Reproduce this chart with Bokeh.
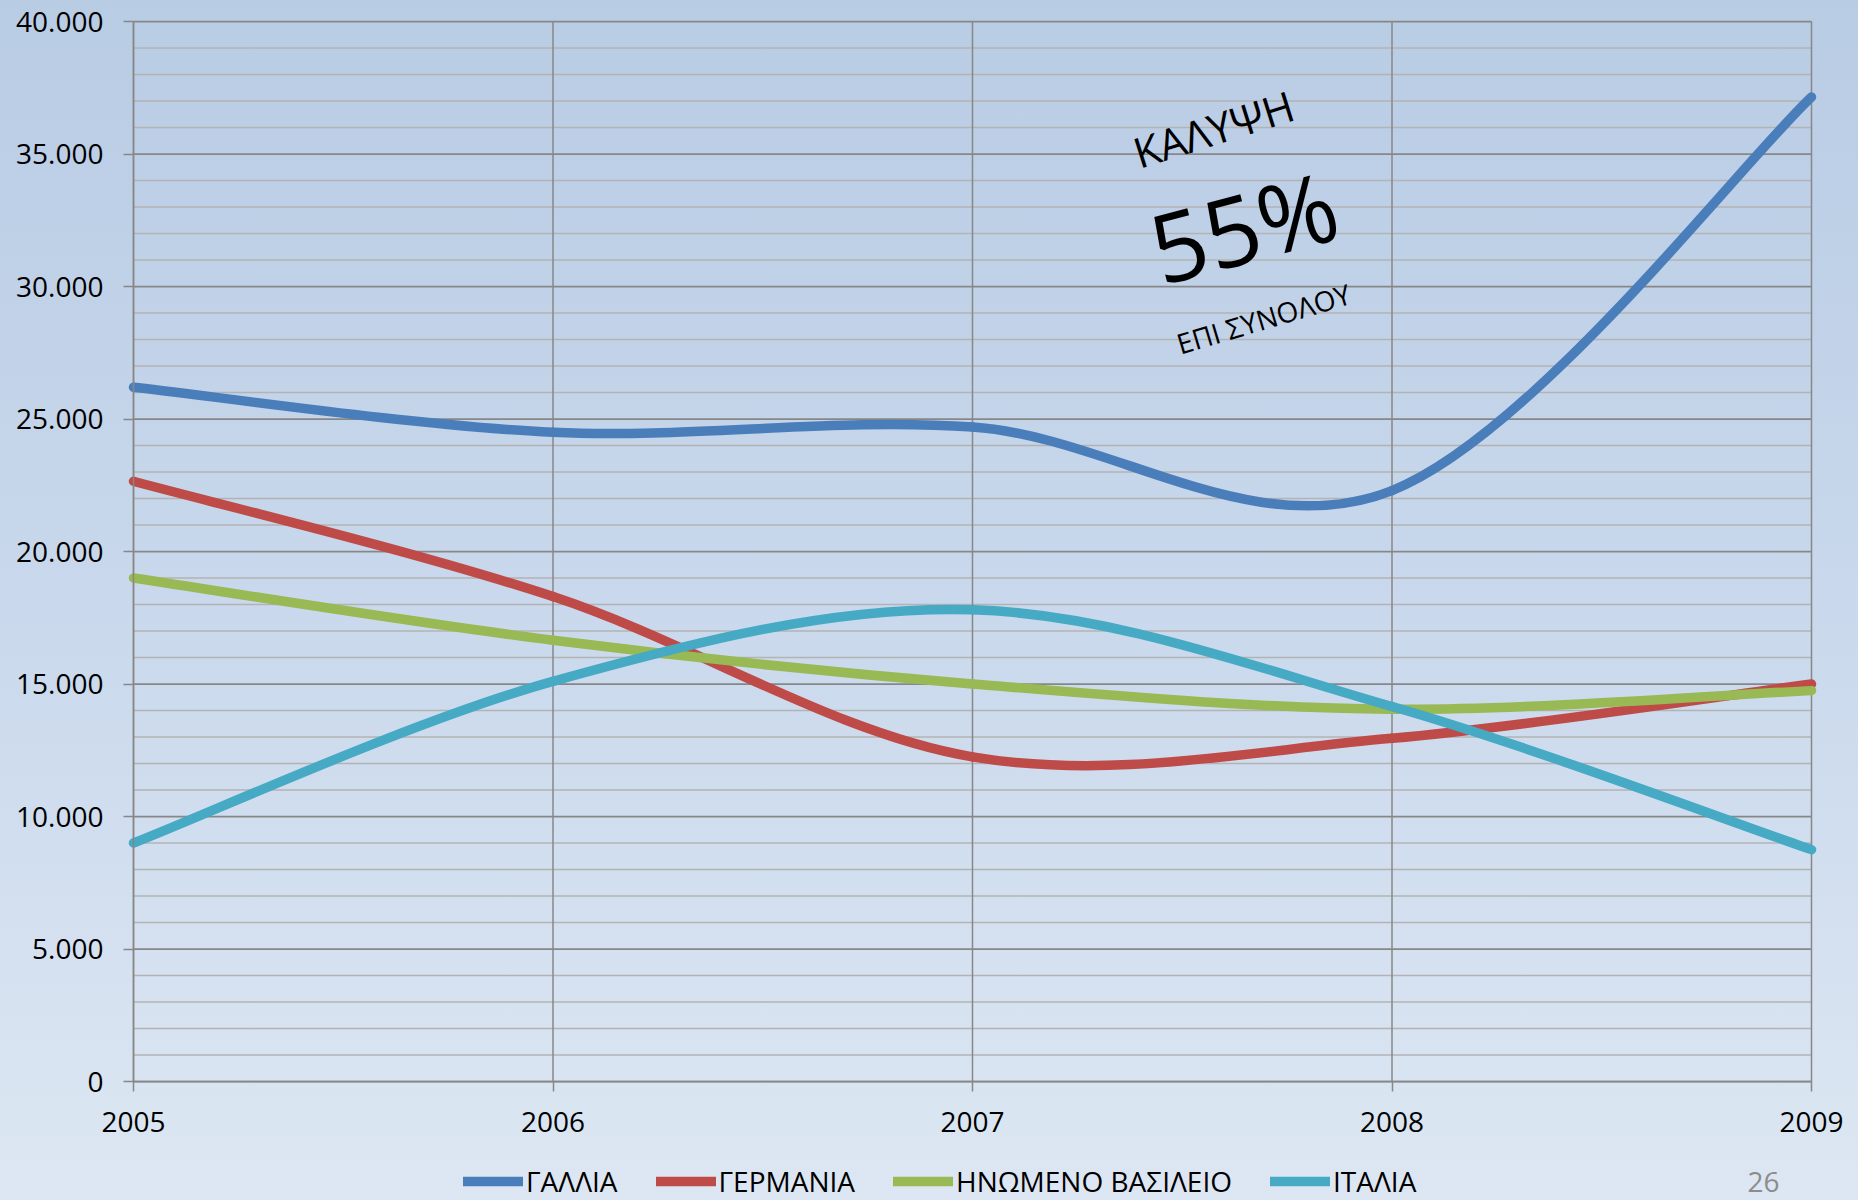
import numpy as np
from bokeh.plotting import figure
from bokeh.models import (FixedTicker, Legend, LegendItem, Label, Range1d,
                          ColumnDataSource, GlobalInlineStyleSheet)
from bokeh.embed import file_html
from bokeh.resources import INLINE

# ---------------- data ----------------
years = [2005, 2006, 2007, 2008, 2009]
gallia = [26200, 24500, 24700, 22300, 37150]
germania = [22650, 18300, 12250, 12950, 15000]
hnomeno_vasileio = [19000, 16650, 15000, 14050, 14750]
italia = [9000, 15100, 17800, 14150, 8750]

series_names = ["ΓΑΛΛΙΑ", "ΓΕΡΜΑΝΙΑ", "ΗΝΩΜΕΝΟ ΒΑΣΙΛΕΙΟ", "ΙΤΑΛΙΑ"]
series_values = [gallia, germania, hnomeno_vasileio, italia]
series_colors = ["#4a7ebb", "#be4b48", "#98b954", "#46aac5"]

y_ticks = [0, 5000, 10000, 15000, 20000, 25000, 30000, 35000, 40000]
y_tick_labels = ["0", "5.000", "10.000", "15.000", "20.000", "25.000",
                 "30.000", "35.000", "40.000"]
y_minor_ticks = list(range(0, 40001, 1000))
x_ticks = years
x_tick_labels = ["2005", "2006", "2007", "2008", "2009"]

FONT = "Open Sans"
GRID = "#878787"
MINOR = "#b3b3b3"

# ---------------- layout (plot area inside a full-canvas frame) ----------------
W, H = 1858, 1200
AREA_LEFT, AREA_RIGHT, AREA_TOP, AREA_BOTTOM = 133, 1811, 21, 1081
x_min, x_max = years[0], years[-1]
y_min, y_max = y_ticks[0], y_ticks[-1]
ppx = (AREA_RIGHT - AREA_LEFT) / (x_max - x_min)
ppy = (AREA_BOTTOM - AREA_TOP) / (y_max - y_min)
x_range = Range1d(x_min - AREA_LEFT / ppx, x_max + (W - AREA_RIGHT) / ppx)
y_range = Range1d(y_min - (H - AREA_BOTTOM) / ppy, y_max + AREA_TOP / ppy)

p = figure(width=W, height=H, output_backend="svg", toolbar_location=None,
           x_range=x_range, y_range=y_range,
           min_border_left=0, min_border_right=0, min_border_top=0,
           min_border_bottom=0)
p.background_fill_alpha = 0
p.border_fill_alpha = 0
p.outline_line_color = None
p.stylesheets.append(GlobalInlineStyleSheet(css="""
html { min-height: 100%; background: linear-gradient(to bottom, #b8cce4 0%, #c9d8ec 50%, #dde7f3 100%) fixed; }
body { background: transparent; margin: 0; overflow: hidden; }
"""))
p.xgrid.visible = False
p.ygrid.visible = False

# ---------------- grid lines (from the tick arrays) ----------------
minor_only = [t for t in y_minor_ticks if t not in y_ticks]
p.segment(x0=[x_min] * len(minor_only), y0=minor_only,
          x1=[x_max] * len(minor_only), y1=minor_only,
          line_color=MINOR, line_width=1.5)
p.segment(x0=[x_min] * len(y_ticks), y0=y_ticks,
          x1=[x_max] * len(y_ticks), y1=y_ticks,
          line_color=GRID, line_width=1.75)
p.segment(x0=x_ticks, y0=[y_min] * len(x_ticks), x1=x_ticks,
          y1=[y_max] * len(x_ticks), line_color=GRID, line_width=1.5)

# ---------------- axes fixed at the plot-area edges ----------------
p.yaxis.ticker = FixedTicker(ticks=y_ticks)
p.yaxis.major_label_overrides = {t: l for t, l in zip(y_ticks, y_tick_labels)}
p.yaxis.bounds = (y_min, y_max)
p.yaxis.fixed_location = x_min
p.xaxis.ticker = FixedTicker(ticks=x_ticks)
p.xaxis.major_label_overrides = {t: l for t, l in zip(x_ticks, x_tick_labels)}
p.xaxis.bounds = (x_min, x_max)
p.xaxis.fixed_location = y_min

for ax in (p.xaxis[0], p.yaxis[0]):
    ax.axis_line_color = GRID
    ax.axis_line_width = 1.5
    ax.major_tick_line_color = GRID
    ax.major_tick_line_width = 1.5
    ax.major_tick_in = 0
    ax.major_tick_out = 10
    ax.minor_tick_line_color = None
    ax.major_label_text_font = FONT
    ax.major_label_text_font_size = "28px"
    ax.major_label_text_color = "#000000"
p.yaxis.major_label_standoff = 20
p.xaxis.major_label_standoff = 20

# ---------------- smoothed lines (Excel-style Catmull-Rom Bezier) ----------------
renderers = []
for name, vals, col in zip(series_names, series_values, series_colors):
    x = np.array(years, dtype=float)
    y = np.array(vals, dtype=float)
    n = len(x)
    xe = np.concatenate([[x[0]], x, [x[-1]]])
    ye = np.concatenate([[y[0]], y, [y[-1]]])
    x0, y0 = x[:-1], y[:-1]
    x1, y1 = x[1:], y[1:]
    cx0 = x0 + (xe[2:n + 1] - xe[0:n - 1]) / 6.0
    cy0 = y0 + (ye[2:n + 1] - ye[0:n - 1]) / 6.0
    cx1 = x1 - (xe[3:n + 2] - xe[1:n]) / 6.0
    cy1 = y1 - (ye[3:n + 2] - ye[1:n]) / 6.0
    src = ColumnDataSource(dict(x0=x0, y0=y0, x1=x1, y1=y1,
                                cx0=cx0, cy0=cy0, cx1=cx1, cy1=cy1))
    r = p.bezier(x0="x0", y0="y0", x1="x1", y1="y1", cx0="cx0", cy0="cy0",
                 cx1="cx1", cy1="cy1", source=src, line_color=col,
                 line_width=9.5, line_cap="round")
    renderers.append(r)

legend = Legend(items=[LegendItem(label=nm, renderers=[r])
                       for nm, r in zip(series_names, renderers)],
                orientation="horizontal", location=(463, 0),
                padding=0, margin=0, spacing=38, label_standoff=3,
                glyph_width=60, glyph_height=20,
                border_line_color=None, background_fill_alpha=0,
                label_text_font=FONT, label_text_font_size="28px",
                label_text_color="#000000")
p.add_layout(legend)

# ---------------- annotations (screen units from the canvas bottom-left) ----------------
p.add_layout(Label(x=1213, y=1072, x_units="screen", y_units="screen",
                   text="ΚΑΛΥΨΗ", angle=0.305, text_align="center",
                   text_baseline="middle", text_font=FONT,
                   text_font_size="42px", text_color="#000000"))
p.add_layout(Label(x=1243, y=975, x_units="screen", y_units="screen",
                   text="55%", angle=0.26, text_align="center",
                   text_baseline="middle", text_font=FONT,
                   text_font_size="96px", text_color="#000000"))
p.add_layout(Label(x=1263, y=882, x_units="screen", y_units="screen",
                   text="ΕΠΙ ΣΥΝΟΛΟΥ", angle=0.29, text_align="center",
                   text_baseline="middle", text_font=FONT,
                   text_font_size="28px", text_color="#000000"))
p.add_layout(Label(x=1763, y=19, x_units="screen", y_units="screen",
                   text="26", text_align="center", text_baseline="middle",
                   text_font=FONT, text_font_size="28px",
                   text_color="#8c8c8c"))

open("out.html", "w").write(file_html(p, INLINE))
